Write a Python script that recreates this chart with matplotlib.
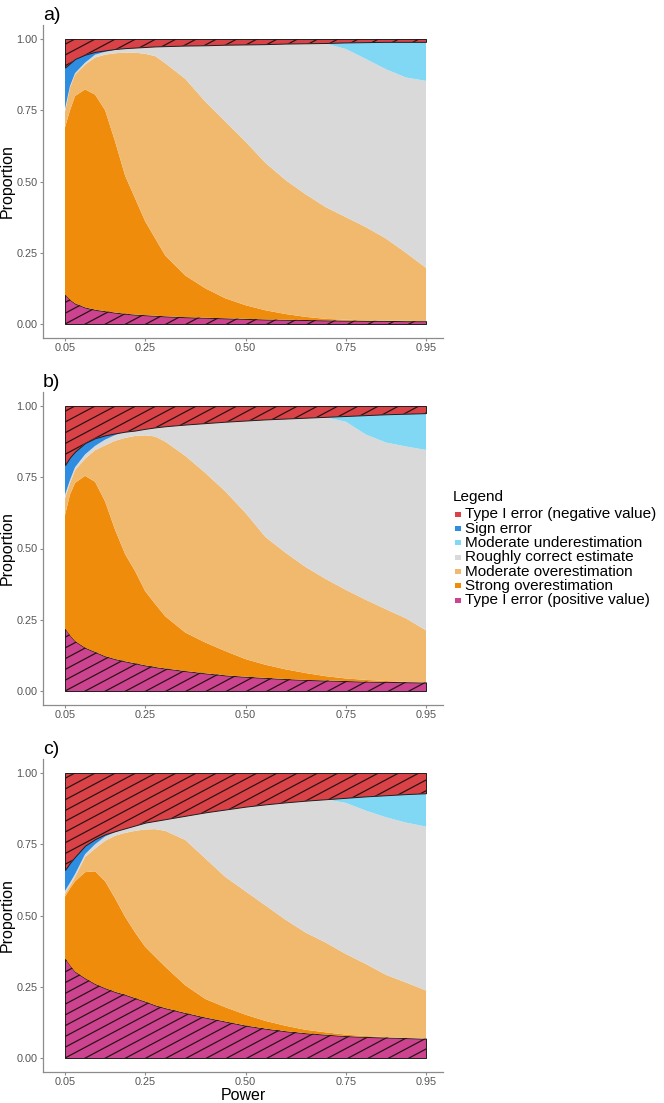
import matplotlib.pyplot as plt
import numpy as np
from matplotlib.collections import LineCollection
from matplotlib.patches import Rectangle

plt.rcParams['font.family'] = ['Liberation Sans', 'DejaVu Sans']

power = [0.05, 0.0625, 0.075, 0.10, 0.125, 0.15, 0.175, 0.20, 0.225, 0.25, 0.275, 0.30,
         0.35, 0.40, 0.45, 0.50, 0.55, 0.60, 0.65, 0.70, 0.75, 0.80, 0.85, 0.90, 0.95]

categories = ["Type I error (positive value)", "Strong overestimation", "Moderate overestimation",
              "Roughly correct estimate", "Moderate underestimation", "Sign error",
              "Type I error (negative value)"]
colors = ['#cc4490', '#f08c0c', '#f0b96e', '#d9d9d9', '#80d8f5', '#2e8de0', '#d94348']

# panel a
a_type1_pos = [.104, .085, .072, .058, .050, .045, .040, .036, .033, .031, .029, .027, .024,
               .022, .020, .018, .016, .015, .014, .013, .012, .011, .011, .010, .010]
a_strong = [.586, .665, .728, .765, .755, .705, .600, .484, .407, .329, .271, .213, .146,
            .103, .070, .048, .032, .020, .011, .005, .003, .002, .001, .001, .000]
a_mod_over = [.055, .080, .075, .087, .130, .195, .310, .432, .512, .588, .640, .675, .690,
              .655, .620, .574, .517, .470, .430, .392, .360, .327, .288, .239, .187]
a_correct = [.010, .005, .005, .007, .010, .010, .012, .016, .018, .024, .034, .060, .117,
             .198, .270, .341, .417, .479, .530, .574, .590, .590, .594, .615, .656]
a_mod_under = [0, 0, 0, 0, 0, 0, 0, 0, 0, 0, 0, 0, 0,
               0, 0, 0, 0, 0, 0, .002, .023, .059, .096, .125, .137]
a_sign = [.145, .080, .050, .028, .010, .005, .003, 0, 0, 0, 0, 0, 0,
          0, 0, 0, 0, 0, 0, 0, 0, 0, 0, 0, 0]
a_type1_neg = [.100, .085, .070, .055, .045, .040, .035, .032, .030, .028, .026, .025, .023,
               .022, .020, .019, .018, .016, .015, .014, .012, .011, .010, .010, .010]

# panel b
b_type1_pos = [.220, .195, .175, .152, .137, .122, .112, .104, .097, .090, .084, .079, .070,
               .062, .055, .050, .046, .042, .039, .037, .035, .033, .032, .031, .030]
b_strong = [.397, .495, .555, .603, .597, .543, .453, .376, .323, .260, .221, .183, .135,
            .108, .085, .062, .046, .034, .024, .015, .009, .006, .003, .001, .000]
b_mod_over = [.059, .040, .045, .060, .111, .197, .313, .408, .475, .547, .588, .613, .620,
              .595, .560, .513, .448, .409, .372, .341, .311, .281, .252, .223, .183]
b_correct = [.012, .010, .010, .015, .015, .020, .020, .022, .019, .023, .032, .054, .110,
             .175, .245, .324, .413, .471, .524, .567, .590, .580, .585, .603, .633]
b_mod_under = [0, 0, 0, 0, 0, 0, 0, 0, 0, 0, 0, 0, 0,
               0, 0, 0, 0, 0, 0, .002, .020, .068, .099, .115, .129]
b_sign = [.105, .080, .055, .040, .027, .015, .006, 0, 0, 0, 0, 0, 0,
          0, 0, 0, 0, 0, 0, 0, 0, 0, 0, 0, 0]
b_type1_neg = [.207, .180, .160, .130, .113, .103, .096, .090, .086, .080, .075, .071, .065,
               .060, .055, .051, .047, .044, .041, .038, .035, .032, .029, .027, .025]

# panel c
c_type1_pos = [.350, .325, .303, .280, .260, .245, .232, .222, .210, .198, .185, .175, .158,
               .142, .128, .114, .103, .094, .087, .082, .077, .074, .072, .070, .068]
c_strong = [.216, .270, .317, .372, .395, .375, .328, .273, .230, .192, .170, .145, .097,
            .065, .050, .038, .027, .019, .012, .008, .005, .003, .001, .000, .000]
c_mod_over = [.010, .010, .015, .053, .080, .142, .220, .295, .357, .412, .448, .477, .510,
              .493, .457, .433, .405, .372, .341, .315, .283, .253, .219, .195, .169]
c_correct = [.010, .010, .010, .010, .015, .015, .013, .016, .019, .024, .029, .041, .085,
             .162, .237, .297, .355, .412, .463, .503, .530, .538, .553, .561, .575]
c_mod_under = [0, 0, 0, 0, 0, 0, 0, 0, 0, 0, 0, 0, 0,
               0, 0, 0, 0, 0, 0, 0, .018, .050, .077, .100, .117]
c_sign = [.074, .070, .061, .030, .018, .008, .003, 0, 0, 0, 0, 0, 0,
          0, 0, 0, 0, 0, 0, 0, 0, 0, 0, 0, 0]
c_type1_neg = [.340, .315, .294, .255, .232, .215, .204, .194, .184, .174, .168, .162, .150,
               .138, .128, .118, .110, .103, .097, .092, .087, .082, .078, .074, .071]

panels = [
    ("a)", [a_type1_pos, a_strong, a_mod_over, a_correct, a_mod_under, a_sign, a_type1_neg]),
    ("b)", [b_type1_pos, b_strong, b_mod_over, b_correct, b_mod_under, b_sign, b_type1_neg]),
    ("c)", [c_type1_pos, c_strong, c_mod_over, c_correct, c_mod_under, c_sign, c_type1_neg]),
]

W, H = 664, 1103
fig = plt.figure(figsize=(W / 100, H / 100), dpi=100)

ax_left, ax_w, ax_h = 43, 400, 313.5
ax_tops = [24.75, 391.75, 758.75]
grey = '#555555'


def add_stripes(ax, coll):
    # diagonal stripes clipped to the polygon (like ggpattern stripes)
    bb = ax.get_window_extent()
    w, h = bb.width, bb.height
    ang = np.deg2rad(28)
    rise = w * np.tan(ang)
    gap = 9.5 / np.cos(ang)
    segs = []
    for c in np.arange(-rise, h + gap, gap):
        segs.append([(0, c / h), (1, (c + rise) / h)])
    lc = LineCollection(segs, colors='#2a1414', linewidths=0.9, transform=ax.transAxes)
    lc.set_clip_path(coll.get_paths()[0], ax.transData)
    ax.add_collection(lc, autolim=False)


for i, (tag, layers) in enumerate(panels):
    top = ax_tops[i]
    ax = fig.add_axes([ax_left / W, 1 - (top + ax_h) / H, ax_w / W, ax_h / H])
    polys = ax.stackplot(power, *layers, colors=colors, linewidth=0)
    for k in (0, 6):
        polys[k].set_edgecolor('#1e1e1e')
        polys[k].set_linewidth(0.7)
        add_stripes(ax, polys[k])

    ax.set_xlim(0.05 - 22 / 401, 0.95 + 17 / 401)
    ax.set_ylim(-0.05, 1.05)
    ax.set_xticks([0.05, 0.25, 0.50, 0.75, 0.95])
    ax.set_xticklabels(['0.05', '0.25', '0.50', '0.75', '0.95'])
    ax.set_yticks([0, 0.25, 0.5, 0.75, 1.0])
    ax.set_yticklabels(['0.00', '0.25', '0.50', '0.75', '1.00'])
    ax.tick_params(colors='#8c8c8c', labelcolor=grey, labelsize=7.8, length=2.5, width=0.8, pad=1.5)
    ax.tick_params(axis='x', pad=1)
    for s in ('top', 'right'):
        ax.spines[s].set_visible(False)
    for s in ('left', 'bottom'):
        ax.spines[s].set_color('#8c8c8c')
        ax.spines[s].set_linewidth(0.9)
    ax.set_ylabel("Proportion", fontsize=11.5)
    ax.yaxis.set_label_coords(-0.07, 0.5)
    ax.text(0.0, 1.002, tag, transform=ax.transAxes, fontsize=14, ha='left', va='bottom')
    if i == 2:
        ax.set_xlabel("Power", fontsize=11.5)
        ax.xaxis.set_label_coords(0.5, -0.05)

# legend (drawn by hand to match the tight ggplot spacing)
fig.text(453 / W, 1 - 497 / H, "Legend", fontsize=11, va='center', ha='left')
legend_order = [6, 5, 4, 3, 2, 1, 0]
for j, k in enumerate(legend_order):
    yc = 514.3 + j * 14.3
    fig.patches.append(Rectangle((455 / W, 1 - (yc + 2.5) / H), 5.5 / W, 5 / H,
                                 transform=fig.transFigure, facecolor=colors[k],
                                 edgecolor='none'))
    fig.text(465 / W, 1 - yc / H, categories[k], fontsize=11, va='center', ha='left')

fig.savefig("out.png", dpi=100)
